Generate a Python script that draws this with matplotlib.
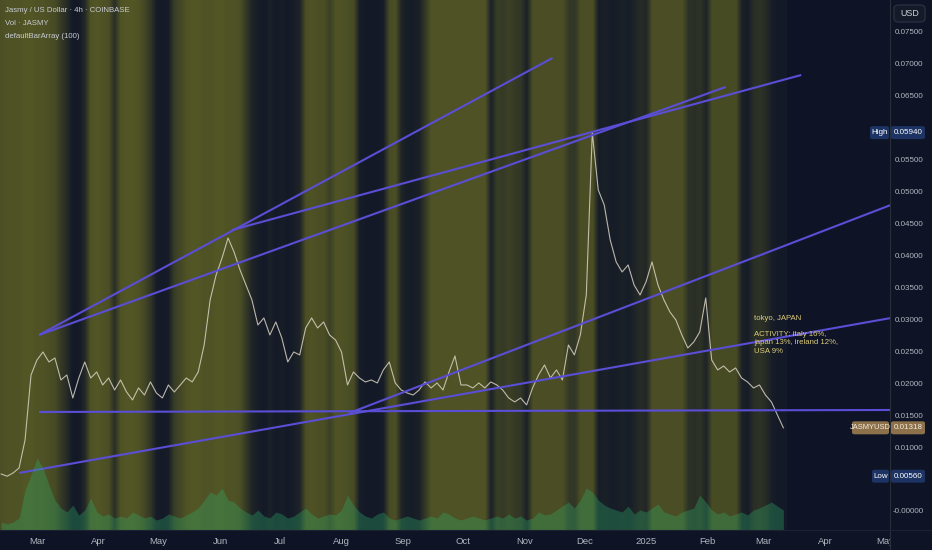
import numpy as np
import matplotlib
matplotlib.use("Agg")
import matplotlib.pyplot as plt
import matplotlib.dates as mdates
from matplotlib.patches import FancyBboxPatch
from matplotlib import font_manager

# ---------------- data ----------------
start_date = np.datetime64('2024-02-12')
step_days = 3

prices = [0.00595, 0.00560, 0.00611, 0.00689, 0.01127, 0.02145, 0.02380, 0.02505, 0.02349, 0.02411,
          0.02067, 0.02145, 0.01785, 0.02098, 0.02349, 0.02098, 0.02192, 0.01989, 0.02098, 0.01910,
          0.02067, 0.01879, 0.01754, 0.01942, 0.01832, 0.02036, 0.01863, 0.01785, 0.01989, 0.01879,
          0.01989, 0.02098, 0.02036, 0.02192, 0.02615, 0.03320, 0.03711, 0.03978, 0.04291, 0.04071,
          0.03790, 0.03555, 0.03320, 0.02928, 0.03038, 0.02772, 0.02975, 0.02725, 0.02349, 0.02505,
          0.02459, 0.02881, 0.03038, 0.02881, 0.02975, 0.02772, 0.02693, 0.02505, 0.01989, 0.02192,
          0.02098, 0.02036, 0.02067, 0.02020, 0.02224, 0.02349, 0.02020, 0.01910, 0.01863, 0.01832,
          0.01910, 0.02036, 0.01942, 0.02020, 0.01910, 0.02192, 0.02443, 0.01989, 0.01989, 0.01942,
          0.02020, 0.01942, 0.02036, 0.01989, 0.01910, 0.01785, 0.01723, 0.01785, 0.01676, 0.01942,
          0.02145, 0.02302, 0.02098, 0.02224, 0.02067, 0.02615, 0.02459, 0.02772, 0.03400, 0.05940,
          0.05042, 0.04807, 0.04260, 0.03915, 0.03758, 0.03868, 0.03555, 0.03398, 0.03602, 0.03915,
          0.03555, 0.03320, 0.03132, 0.03007, 0.02772, 0.02568, 0.02662, 0.02819, 0.03351, 0.02380,
          0.02224, 0.02286, 0.02192, 0.02255, 0.02098, 0.02036, 0.01942, 0.01989, 0.01832, 0.01723,
          0.01519, 0.01318]

volumes = [8, 6, 8, 12, 40, 55, 72, 62, 45, 30,
           22, 18, 25, 15, 20, 32, 18, 14, 16, 12,
           14, 12, 18, 15, 12, 14, 10, 12, 16, 14,
           12, 15, 18, 22, 30, 38, 35, 42, 30, 28,
           22, 18, 15, 20, 14, 12, 18, 16, 12, 14,
           18, 22, 16, 12, 14, 16, 15, 20, 35, 25,
           18, 14, 12, 16, 18, 12, 10, 12, 14, 12,
           10, 12, 14, 12, 18, 16, 12, 10, 12, 14,
           12, 10, 12, 14, 12, 16, 12, 14, 10, 12,
           18, 15, 16, 20, 24, 28, 22, 30, 42, 38,
           30, 25, 22, 20, 18, 24, 16, 20, 18, 22,
           26, 18, 16, 14, 18, 20, 22, 35, 28, 20,
           16, 18, 14, 16, 18, 15, 20, 22, 25, 28,
           24, 20]

bar_array = [0.80, 0.85, 0.85, 0.85, 0.90, 0.90, 0.85, 0.85, 0.80, 0.75,
             0.50, 0.30, 0.05, 0.05, 0.25, 0.85, 0.90, 0.85, 0.80, 0.35,
             0.85, 0.90, 0.90, 0.85, 0.70, 0.45, 0.10, 0.05, 0.10, 0.55,
             0.70, 0.85, 0.90, 0.90, 0.85, 0.85, 0.90, 0.90, 0.85, 0.85,
             0.80, 0.50, 0.20, 0.10, 0.05, 0.15, 0.05, 0.10, 0.05, 0.10,
             0.20, 0.80, 0.85, 0.80, 0.80, 0.60, 0.85, 0.85, 0.80, 0.75,
             0.10, 0.05, 0.05, 0.05, 0.10, 0.75, 0.80, 0.20, 0.10, 0.10,
             0.15, 0.50, 0.85, 0.85, 0.85, 0.85, 0.85, 0.85, 0.85, 0.85,
             0.85, 0.85, 0.15, 0.55, 0.50, 0.60, 0.50, 0.45, 0.15, 0.80,
             0.80, 0.80, 0.80, 0.80, 0.80, 0.50, 0.45, 0.80, 0.80, 0.80,
             0.10, 0.15, 0.10, 0.10, 0.15, 0.10, 0.20, 0.30, 0.25, 0.80,
             0.80, 0.80, 0.80, 0.80, 0.80, 0.40, 0.35, 0.40, 0.20, 0.75,
             0.75, 0.75, 0.75, 0.75, 0.15, 0.10, 0.35, 0.40, 0.30, 0.10,
             0.05, 0.05]

# trend lines: (start date, start price, end date, end price)
trend_lines = [
    ('2024-03-02', 0.02771, '2024-11-15', 0.07108),
    ('2024-03-02', 0.02771, '2025-02-10', 0.06654),
    ('2024-06-07', 0.04415, '2025-03-20', 0.06842),
    ('2024-02-21', 0.00611, '2025-05-04', 0.03037),
    ('2024-08-05', 0.01550, '2025-05-04', 0.04807),
    ('2024-03-02', 0.01566, '2025-05-04', 0.01597),
]

month_ticks = ['2024-03-01', '2024-04-01', '2024-05-01', '2024-06-01', '2024-07-01', '2024-08-01',
               '2024-09-01', '2024-10-01', '2024-11-01', '2024-12-01', '2025-01-01', '2025-02-01',
               '2025-03-01', '2025-04-01', '2025-05-01']
month_labels = ['Mar', 'Apr', 'May', 'Jun', 'Jul', 'Aug', 'Sep', 'Oct', 'Nov', 'Dec', '2025',
                'Feb', 'Mar', 'Apr', 'May']

price_ticks = [0.075, 0.070, 0.065, 0.055, 0.050, 0.045, 0.040, 0.035, 0.030,
               0.025, 0.020, 0.015, 0.010, 0.0]
high_val, low_val, last_val = 0.05940, 0.00560, 0.01318

# ---------------- style ----------------
names = {f.name for f in font_manager.fontManager.ttflist}
NARROW = 'Liberation Sans Narrow' if 'Liberation Sans Narrow' in names else 'Liberation Sans'
plt.rcParams['font.family'] = [NARROW, 'DejaVu Sans']
BG = '#0e1426'
NAVY = np.array([16, 22, 40]) / 255
OLIVE = np.array([90, 93, 36]) / 255
TXT = '#b2b5be'
PURPLE = '#5b4ed6'

W, H = 932, 550
fig = plt.figure(figsize=(W / 100, H / 100), dpi=100, facecolor=BG)
plot_right = 890 / W
plot_bottom = 20 / H
ax = fig.add_axes([0, plot_bottom, plot_right, 1 - plot_bottom])
ax.set_facecolor(BG)

n = len(prices)
dates = start_date + np.arange(n) * np.timedelta64(step_days, 'D')
xd = mdates.date2num(dates)

x_left = mdates.date2num(np.datetime64('2024-02-11T10:00'))
x_right = mdates.date2num(np.datetime64('2025-05-03T14:00'))
y_bot, y_top = -0.00282, 0.08016
ax.set_xlim(x_left, x_right)
ax.set_ylim(y_bot, y_top)

# background bands
ba = np.array(bar_array)
rgb = NAVY[None, :] + (OLIVE - NAVY)[None, :] * ba[:, None]
img = rgb[None, :, :]
half = step_days / 2
ax.imshow(img, extent=[xd[0] - half, xd[-1] + half, y_bot, y_top], aspect='auto',
          interpolation='bilinear', zorder=0)

# volume (overlay axes)
axv = fig.add_axes(ax.get_position(), sharex=ax)
axv.patch.set_alpha(0)
axv.set_ylim(0, 530)
axv.fill_between(xd, 0, volumes, color='#2fae6a', alpha=0.33, lw=0)
axv.axis('off')

# price line
ax.plot(xd, prices, color='#d8d1c2', lw=0.8, alpha=0.85, zorder=3)

# trend lines
for d0, p0, d1, p1 in trend_lines:
    ax.plot([mdates.date2num(np.datetime64(d0)), mdates.date2num(np.datetime64(d1))],
            [p0, p1], color=PURPLE, lw=1.5, zorder=4, solid_capstyle='butt')

ax.set_xticks([])
ax.set_yticks([])
for s in ax.spines.values():
    s.set_visible(False)

# legend text
for i, t in enumerate(['Jasmy / US Dollar · 4h · COINBASE', 'Vol · JASMY', 'defaultBarArray (100)']):
    fig.text(5 / W, 1 - (11 + 12.5 * i) / H, t, color='#c9ccd4', fontsize=5.6, va='center', ha='left')

# annotation
ann = [('tokyo, JAPAN', 318), ('ACTIVITY: italy 16%,', 334.5), ('japan 13%, ireland 12%,', 343), ('USA 9%', 351.5)]
for t, yy in ann:
    fig.text(754 / W, 1 - yy / H, t, color='#dccb7a', fontsize=5.6, va='center', ha='left')

# bottom axis strip
axb = fig.add_axes([0, 0, plot_right, plot_bottom], sharex=ax)
axb.set_facecolor(BG)
axb.set_ylim(0, 1)
axb.axis('off')
for d, lab in zip(month_ticks, month_labels):
    axb.text(mdates.date2num(np.datetime64(d)), 0.45, lab, color=TXT, fontsize=6.8,
             ha='center', va='center', clip_on=True)

# separators
fig.add_artist(plt.Line2D([plot_right, plot_right], [0, 1], color='#2a2e39', lw=0.8))
fig.add_artist(plt.Line2D([0, 1], [plot_bottom, plot_bottom], color='#1d2233', lw=0.8))

# right axis
axr = fig.add_axes([plot_right, plot_bottom, 1 - plot_right, 1 - plot_bottom])
axr.set_facecolor(BG)
axr.set_xlim(0, 1)
axr.set_ylim(y_bot, y_top)
axr.axis('off')
for v in price_ticks:
    lab = '-0.00000' if v == 0 else f'{v:.5f}'
    axr.text(0.8, v, lab, color=TXT, fontsize=5.8, ha='right', va='center')


def tag(x0_px, x1_px, yv, text, fc, tc='white', fs=5.8):
    y_px = 1 - ((y_top - yv) / (y_top - y_bot) * (H - 20)) / H
    hh = 13 / H
    box = FancyBboxPatch((x0_px / W, y_px - hh / 2), (x1_px - x0_px) / W, hh,
                         boxstyle='round,pad=0,rounding_size=0.003', fc=fc, ec='none',
                         transform=fig.transFigure, zorder=10)
    fig.add_artist(box)
    fig.text((x0_px + x1_px) / 2 / W, y_px, text, color=tc, fontsize=fs, ha='center', va='center',
             zorder=11)


tag(891, 925, high_val, f'{high_val:.5f}', '#1c3363')
tag(870, 889, high_val, 'High', '#1c3363')
tag(891, 925, low_val, f'{low_val:.5f}', '#1c3363')
tag(872, 889, low_val, 'Low', '#1c3363')
tag(891, 925, last_val, f'{last_val:.5f}', '#8d714a', tc='#f3ece0')
tag(852, 889, last_val, 'JASMYUSD', '#8d714a', tc='#f3ece0', fs=5.4)

# USD box
usd = FancyBboxPatch((894 / W, 1 - 22 / H), 31 / W, 17 / H, boxstyle='round,pad=0,rounding_size=0.006',
                     fc='#151a28', ec='#2f3445', lw=0.8, transform=fig.transFigure, zorder=10)
fig.add_artist(usd)
fig.text(909.5 / W, 1 - 13.5 / H, 'USD', color='#d1d4dc', fontsize=6.4, ha='center', va='center', zorder=11)

fig.savefig('out.png', dpi=100, facecolor=BG)
